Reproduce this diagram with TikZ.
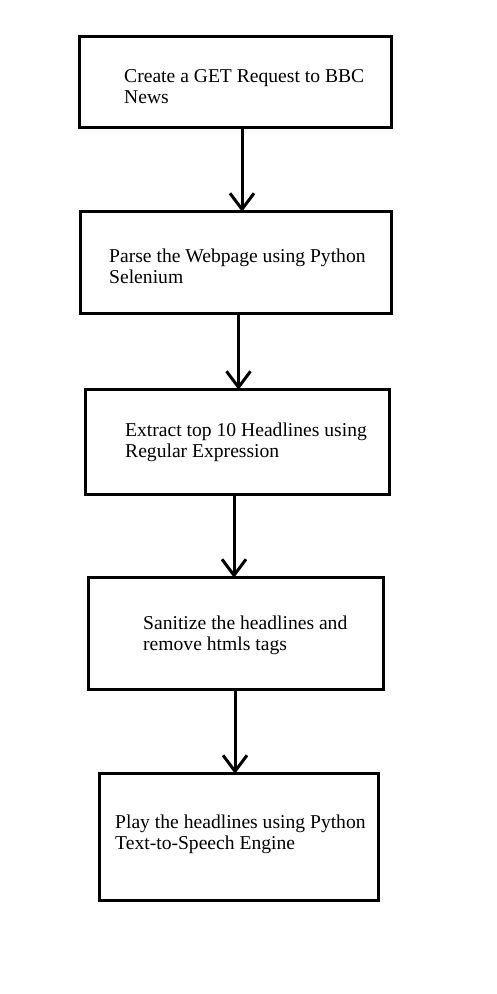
\documentclass[tikz,border=0pt]{standalone}
\usepackage{fontspec}
\setmainfont{Liberation Serif}
\usetikzlibrary{arrows.meta}
\begin{document}
\begin{tikzpicture}[x=1pt,y=-1pt,
  box/.style={draw, line width=3pt, rectangle, inner sep=0pt, outer sep=0pt},
  lbl/.style={anchor=base west, inner sep=0pt, font=\fontsize{19.6}{21.7}\selectfont},
  arr/.style={line width=3pt, -{Straight Barb[length=16pt,width=24pt]}}]
\useasboundingbox[fill=white] (0,0) rectangle (497,994);
\node[box, minimum width=312pt, minimum height=90.4pt] (b1) at (235.3,82) {};
\node[box, minimum width=310.4pt, minimum height=101.4pt] (b2) at (236,262.5) {};
\node[box, minimum width=303.4pt, minimum height=104.4pt] (b3) at (237.5,442) {};
\node[box, minimum width=294.4pt, minimum height=111.4pt] (b4) at (236,633.5) {};
\node[box, minimum width=278.4pt, minimum height=126.4pt] (b5) at (239,837) {};
\node[lbl] (t1) at (124,82) {\vtop{\baselineskip=21.7pt\hbox{Create a GET Request to BBC}\hbox{News}}};
\node[lbl] (t2) at (109,262) {\vtop{\baselineskip=21.7pt\hbox{Parse the Webpage using Python}\hbox{Selenium}}};
\node[lbl] (t3) at (125,436) {\vtop{\baselineskip=21.7pt\hbox{Extract top 10 Headlines using}\hbox{Regular Expression}}};
\node[lbl] (t4) at (143,629) {\vtop{\baselineskip=21.7pt\hbox{Sanitize the headlines and}\hbox{remove htmls tags}}};
\node[lbl] (t5) at (115,828) {\vtop{\baselineskip=21.7pt\hbox{Play the headlines using Python}\hbox{Text-to-Speech Engine}}};
\coordinate (x1) at (242,0);
\coordinate (x2) at (238.5,0);
\coordinate (x3) at (234,0);
\coordinate (x4) at (235,0);
\draw[arr] (b1.south -| x1) -- (b2.north -| x1);
\draw[arr] (b2.south -| x2) -- (b3.north -| x2);
\draw[arr] (b3.south -| x3) -- (b4.north -| x3);
\draw[arr] (b4.south -| x4) -- (b5.north -| x4);
\end{tikzpicture}
\end{document}
